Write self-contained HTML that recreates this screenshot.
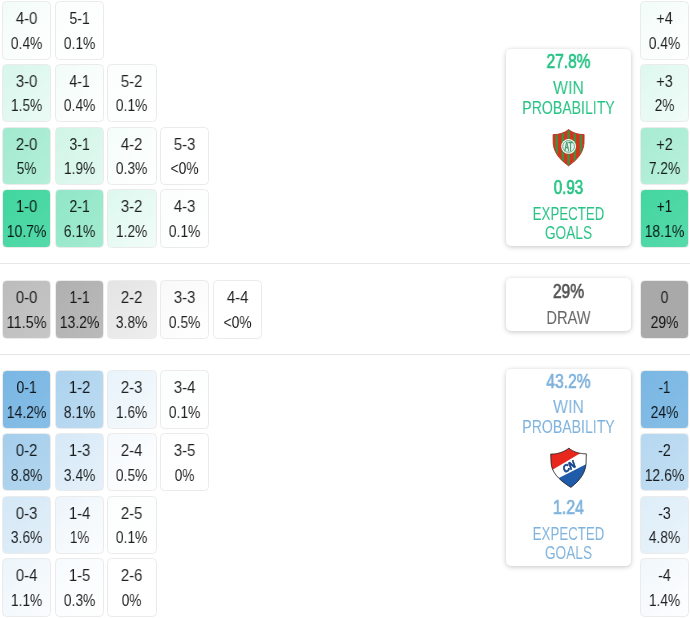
<!DOCTYPE html>
<html><head><meta charset="utf-8"><title>Score matrix</title>
<style>
html,body{margin:0;padding:0;background:#fff;}
body{width:690px;height:618px;position:relative;overflow:hidden;font-family:"Liberation Sans",sans-serif;color:rgba(0,0,0,0.88);}
.b{position:absolute;box-sizing:border-box;width:49.20px;height:58.60px;border:1px solid #ebebeb;border-radius:4.5px;background-clip:padding-box;}
.b span{will-change:transform;position:absolute;left:-10px;right:-10px;text-align:center;font-size:17px;line-height:18px;white-space:nowrap;transform-origin:50% 50%;}
.t1{top:8.00px;}
.t2{top:32.70px;}
.hr{position:absolute;left:0;width:690px;height:1px;background:#e7e7e7;}
.card{position:absolute;left:506px;width:125px;background:#fff;border-radius:5px;box-shadow:0 1px 5px rgba(0,0,0,0.23);}
.cl{will-change:transform;position:absolute;left:-20px;right:-20px;text-align:center;white-space:nowrap;line-height:1;transform-origin:50% 50%;}
.bd{-webkit-text-stroke:0.7px currentColor;}
.dk{color:#555;}
.sh{position:absolute;}
</style></head><body>
<div class="hr" style="top:263px"></div>
<div class="hr" style="top:354px"></div>
<div class="b" style="left:1.90px;top:1.00px;background:linear-gradient(135deg,rgb(242,252,248),rgb(255,255,255))"><span class="t1" style="transform:scaleX(0.867)">4-0</span><span class="t2" style="transform:scaleX(0.813)">0.4%</span></div>
<div class="b" style="left:54.65px;top:1.00px;background:linear-gradient(135deg,rgb(251,254,253),rgb(255,255,255))"><span class="t1" style="transform:scaleX(0.825)">5-1</span><span class="t2" style="transform:scaleX(0.813)">0.1%</span></div>
<div class="b" style="left:1.90px;top:63.75px;background:linear-gradient(135deg,rgb(215,246,235),rgb(235,251,245))"><span class="t1" style="transform:scaleX(0.867)">3-0</span><span class="t2" style="transform:scaleX(0.808)">1.5%</span></div>
<div class="b" style="left:54.65px;top:63.75px;background:linear-gradient(135deg,rgb(242,252,248),rgb(255,255,255))"><span class="t1" style="transform:scaleX(0.825)">4-1</span><span class="t2" style="transform:scaleX(0.813)">0.4%</span></div>
<div class="b" style="left:107.40px;top:63.75px;background:linear-gradient(135deg,rgb(251,254,253),rgb(255,255,255))"><span class="t1" style="transform:scaleX(0.867)">5-2</span><span class="t2" style="transform:scaleX(0.813)">0.1%</span></div>
<div class="b" style="left:1.90px;top:126.50px;background:linear-gradient(135deg,rgb(161,234,207),rgb(181,239,217))"><span class="t1" style="transform:scaleX(0.867)">2-0</span><span class="t2" style="transform:scaleX(0.793)">5%</span></div>
<div class="b" style="left:54.65px;top:126.50px;background:linear-gradient(135deg,rgb(208,245,231),rgb(227,249,241))"><span class="t1" style="transform:scaleX(0.825)">3-1</span><span class="t2" style="transform:scaleX(0.808)">1.9%</span></div>
<div class="b" style="left:107.40px;top:126.50px;background:linear-gradient(135deg,rgb(244,253,249),rgb(255,255,255))"><span class="t1" style="transform:scaleX(0.867)">4-2</span><span class="t2" style="transform:scaleX(0.813)">0.3%</span></div>
<div class="b" style="left:160.15px;top:126.50px;background:linear-gradient(135deg,rgb(255,255,255),rgb(255,255,255))"><span class="t1" style="transform:scaleX(0.867)">5-3</span><span class="t2" style="transform:scaleX(0.809)">&lt;0%</span></div>
<div class="b" style="left:1.90px;top:189.25px;background:linear-gradient(135deg,rgb(65,214,159),rgb(85,218,169))"><span class="t1" style="transform:scaleX(0.861)">1-0</span><span class="t2" style="transform:scaleX(0.824)">10.7%</span></div>
<div class="b" style="left:54.65px;top:189.25px;background:linear-gradient(135deg,rgb(144,231,199),rgb(164,235,209))"><span class="t1" style="transform:scaleX(0.825)">2-1</span><span class="t2" style="transform:scaleX(0.813)">6.1%</span></div>
<div class="b" style="left:107.40px;top:189.25px;background:linear-gradient(135deg,rgb(221,248,238),rgb(241,252,248))"><span class="t1" style="transform:scaleX(0.867)">3-2</span><span class="t2" style="transform:scaleX(0.808)">1.2%</span></div>
<div class="b" style="left:160.15px;top:189.25px;background:linear-gradient(135deg,rgb(251,254,253),rgb(255,255,255))"><span class="t1" style="transform:scaleX(0.867)">4-3</span><span class="t2" style="transform:scaleX(0.813)">0.1%</span></div>
<div class="b" style="left:639.70px;top:1.00px;width:49.00px;background:linear-gradient(135deg,rgb(242,252,248),rgb(255,255,255))"><span class="t1" style="transform:scaleX(0.845)">+4</span><span class="t2" style="transform:scaleX(0.813)">0.4%</span></div>
<div class="b" style="left:639.70px;top:63.75px;width:49.00px;background:linear-gradient(135deg,rgb(221,248,238),rgb(241,252,248))"><span class="t1" style="transform:scaleX(0.845)">+3</span><span class="t2" style="transform:scaleX(0.793)">2%</span></div>
<div class="b" style="left:639.70px;top:126.50px;width:49.00px;background:linear-gradient(135deg,rgb(167,236,210),rgb(186,240,220))"><span class="t1" style="transform:scaleX(0.845)">+2</span><span class="t2" style="transform:scaleX(0.813)">7.2%</span></div>
<div class="b" style="left:639.70px;top:189.25px;width:49.00px;background:linear-gradient(135deg,rgb(67,214,160),rgb(87,218,170))"><span class="t1" style="transform:scaleX(0.792)">+1</span><span class="t2" style="transform:scaleX(0.824)">18.1%</span></div>
<div class="b" style="left:1.90px;top:280.00px;background:linear-gradient(135deg,rgb(188,188,188),rgb(198,198,198))"><span class="t1" style="transform:scaleX(0.867)">0-0</span><span class="t2" style="transform:scaleX(0.847)">11.5%</span></div>
<div class="b" style="left:54.65px;top:280.00px;background:linear-gradient(135deg,rgb(176,176,176),rgb(186,186,186))"><span class="t1" style="transform:scaleX(0.818)">1-1</span><span class="t2" style="transform:scaleX(0.824)">13.2%</span></div>
<div class="b" style="left:107.40px;top:280.00px;background:linear-gradient(135deg,rgb(228,228,228),rgb(238,238,238))"><span class="t1" style="transform:scaleX(0.867)">2-2</span><span class="t2" style="transform:scaleX(0.813)">3.8%</span></div>
<div class="b" style="left:160.15px;top:280.00px;background:linear-gradient(135deg,rgb(249,249,249),rgb(255,255,255))"><span class="t1" style="transform:scaleX(0.867)">3-3</span><span class="t2" style="transform:scaleX(0.813)">0.5%</span></div>
<div class="b" style="left:212.90px;top:280.00px;background:linear-gradient(135deg,rgb(255,255,255),rgb(255,255,255))"><span class="t1" style="transform:scaleX(0.867)">4-4</span><span class="t2" style="transform:scaleX(0.809)">&lt;0%</span></div>
<div class="b" style="left:639.70px;top:280.00px;width:49.00px;background:linear-gradient(135deg,rgb(169,169,169),rgb(169,169,169))"><span class="t1" style="transform:scaleX(0.822)">0</span><span class="t2" style="transform:scaleX(0.820)">29%</span></div>
<div class="b" style="left:1.90px;top:370.10px;background:linear-gradient(135deg,rgb(121,183,227),rgb(135,190,230))"><span class="t1" style="transform:scaleX(0.825)">0-1</span><span class="t2" style="transform:scaleX(0.824)">14.2%</span></div>
<div class="b" style="left:54.65px;top:370.10px;background:linear-gradient(135deg,rgb(174,211,238),rgb(188,219,241))"><span class="t1" style="transform:scaleX(0.861)">1-2</span><span class="t2" style="transform:scaleX(0.813)">8.1%</span></div>
<div class="b" style="left:107.40px;top:370.10px;background:linear-gradient(135deg,rgb(232,243,250),rgb(246,250,253))"><span class="t1" style="transform:scaleX(0.867)">2-3</span><span class="t2" style="transform:scaleX(0.808)">1.6%</span></div>
<div class="b" style="left:160.15px;top:370.10px;background:linear-gradient(135deg,rgb(252,254,254),rgb(255,255,255))"><span class="t1" style="transform:scaleX(0.867)">3-4</span><span class="t2" style="transform:scaleX(0.813)">0.1%</span></div>
<div class="b" style="left:1.90px;top:432.85px;background:linear-gradient(135deg,rgb(165,206,236),rgb(179,214,239))"><span class="t1" style="transform:scaleX(0.867)">0-2</span><span class="t2" style="transform:scaleX(0.813)">8.8%</span></div>
<div class="b" style="left:54.65px;top:432.85px;background:linear-gradient(135deg,rgb(214,233,247),rgb(229,241,250))"><span class="t1" style="transform:scaleX(0.861)">1-3</span><span class="t2" style="transform:scaleX(0.813)">3.4%</span></div>
<div class="b" style="left:107.40px;top:432.85px;background:linear-gradient(135deg,rgb(244,249,253),rgb(255,255,255))"><span class="t1" style="transform:scaleX(0.867)">2-4</span><span class="t2" style="transform:scaleX(0.813)">0.5%</span></div>
<div class="b" style="left:160.15px;top:432.85px;background:linear-gradient(135deg,rgb(255,255,255),rgb(255,255,255))"><span class="t1" style="transform:scaleX(0.867)">3-5</span><span class="t2" style="transform:scaleX(0.793)">0%</span></div>
<div class="b" style="left:1.90px;top:495.60px;background:linear-gradient(135deg,rgb(212,232,246),rgb(226,239,249))"><span class="t1" style="transform:scaleX(0.867)">0-3</span><span class="t2" style="transform:scaleX(0.813)">3.6%</span></div>
<div class="b" style="left:54.65px;top:495.60px;background:linear-gradient(135deg,rgb(237,245,251),rgb(251,253,254))"><span class="t1" style="transform:scaleX(0.861)">1-4</span><span class="t2" style="transform:scaleX(0.784)">1%</span></div>
<div class="b" style="left:107.40px;top:495.60px;background:linear-gradient(135deg,rgb(252,254,254),rgb(255,255,255))"><span class="t1" style="transform:scaleX(0.867)">2-5</span><span class="t2" style="transform:scaleX(0.813)">0.1%</span></div>
<div class="b" style="left:1.90px;top:558.35px;background:linear-gradient(135deg,rgb(236,245,251),rgb(250,252,254))"><span class="t1" style="transform:scaleX(0.867)">0-4</span><span class="t2" style="transform:scaleX(0.808)">1.1%</span></div>
<div class="b" style="left:54.65px;top:558.35px;background:linear-gradient(135deg,rgb(247,251,253),rgb(255,255,255))"><span class="t1" style="transform:scaleX(0.861)">1-5</span><span class="t2" style="transform:scaleX(0.813)">0.3%</span></div>
<div class="b" style="left:107.40px;top:558.35px;background:linear-gradient(135deg,rgb(255,255,255),rgb(255,255,255))"><span class="t1" style="transform:scaleX(0.867)">2-6</span><span class="t2" style="transform:scaleX(0.793)">0%</span></div>
<div class="b" style="left:639.70px;top:370.10px;width:49.00px;background:linear-gradient(135deg,rgb(121,183,227),rgb(135,190,230))"><span class="t1" style="transform:scaleX(0.784)">-1</span><span class="t2" style="transform:scaleX(0.820)">24%</span></div>
<div class="b" style="left:639.70px;top:432.85px;width:49.00px;background:linear-gradient(135deg,rgb(181,215,240),rgb(195,223,243))"><span class="t1" style="transform:scaleX(0.853)">-2</span><span class="t2" style="transform:scaleX(0.824)">12.6%</span></div>
<div class="b" style="left:639.70px;top:495.60px;width:49.00px;background:linear-gradient(135deg,rgb(221,237,248),rgb(235,244,251))"><span class="t1" style="transform:scaleX(0.853)">-3</span><span class="t2" style="transform:scaleX(0.813)">4.8%</span></div>
<div class="b" style="left:639.70px;top:558.35px;width:49.00px;background:linear-gradient(135deg,rgb(240,247,252),rgb(254,254,255))"><span class="t1" style="transform:scaleX(0.853)">-4</span><span class="t2" style="transform:scaleX(0.808)">1.4%</span></div>
<div class="card" style="top:48.50px;height:197.3px;color:#27c384"><span class="cl bd" style="top:3.09px;font-size:19.50px;transform:scaleX(0.793)">27.8%</span><span class="cl " style="top:29.95px;font-size:19.20px;transform:scaleX(0.823)">WIN</span><span class="cl " style="top:49.65px;font-size:19.20px;transform:scaleX(0.735)">PROBABILITY</span><svg class="sh" style="left:46px;top:79px" width="34" height="40" viewBox="0 0 34 40">
<defs><clipPath id="c1"><path d="M1.1 6.6 C6.5 6.8 12.5 5 16.6 1.6 C20.7 5 26.7 6.8 32.1 6.6 L32 15 C31.6 22 28 30 16.6 37.8 C5.2 30 1.6 22 1.2 15 Z"/></clipPath></defs>
<g clip-path="url(#c1)"><rect width="34" height="40" fill="#d8321f"/>
<g fill="#4b8a3c"><rect x="3.4" width="2.6" height="40"/><rect x="9.5" width="2.6" height="40"/><rect x="15.3" width="2.6" height="40"/><rect x="21.5" width="2.6" height="40"/><rect x="27.6" width="2.6" height="40"/></g></g>
<path d="M1.1 6.6 C6.5 6.8 12.5 5 16.6 1.6 C20.7 5 26.7 6.8 32.1 6.6 L32 15 C31.6 22 28 30 16.6 37.8 C5.2 30 1.6 22 1.2 15 Z" fill="none" stroke="#b5371f" stroke-width="0.9"/>
<circle cx="16.6" cy="18.4" r="7.4" fill="#f4faf6"/>
<circle cx="16.6" cy="18.4" r="5.9" fill="#dff1e8" stroke="#62a888" stroke-width="0.9"/>
<text transform="translate(16.6,22.7) scale(0.56,1)" x="0" y="0" text-anchor="middle" font-family="Liberation Sans, sans-serif" font-size="12" fill="#4a9a70" stroke="#4a9a70" stroke-width="0.7">AT</text>
</svg>
<span class="cl bd" style="top:129.59px;font-size:19.50px;transform:scaleX(0.777)">0.93</span><span class="cl " style="top:155.95px;font-size:19.20px;transform:scaleX(0.693)">EXPECTED</span><span class="cl " style="top:174.75px;font-size:19.20px;transform:scaleX(0.714)">GOALS</span></div>
<div class="card" style="top:368.50px;height:197.3px;color:#7fb3dd"><span class="cl bd" style="top:3.09px;font-size:19.50px;transform:scaleX(0.800)">43.2%</span><span class="cl " style="top:28.65px;font-size:19.20px;transform:scaleX(0.823)">WIN</span><span class="cl " style="top:48.85px;font-size:19.20px;transform:scaleX(0.735)">PROBABILITY</span><svg class="sh" style="left:43px;top:77px" width="40" height="44" viewBox="0 0 40 44">
<defs><clipPath id="c2"><path d="M1.7 8.1 C8 8.3 15 6 19.9 2.2 C24.5 6 31 8 37.3 7.8 L37.1 17 C36.6 25 33 33 21.9 41.4 C8 33 2.6 25 2.1 17 Z"/></clipPath></defs>
<g clip-path="url(#c2)"><rect width="40" height="44" fill="#fff"/>
<polygon points="0,0 40,0 40,2.1 0,25.9" fill="#e9281d"/>
<polygon points="40,16.7 40,44 0,44 0,37.1" fill="#1f5ba8"/></g>
<path d="M1.7 8.1 C8 8.3 15 6 19.9 2.2 C24.5 6 31 8 37.3 7.8 L37.1 17 C36.6 25 33 33 21.9 41.4 C8 33 2.6 25 2.1 17 Z" fill="none" stroke="#1c1c22" stroke-width="0.8"/>
<text transform="translate(20.1,20.5) rotate(-29) skewX(-10)" x="0" y="3.7" text-anchor="middle" font-family="Liberation Sans, sans-serif" font-weight="bold" font-size="10.4" fill="#13448a" stroke="#13448a" stroke-width="0.7" textLength="13.4" lengthAdjust="spacingAndGlyphs">CN</text>
</svg>
<span class="cl bd" style="top:129.39px;font-size:19.50px;transform:scaleX(0.816)">1.24</span><span class="cl " style="top:155.15px;font-size:19.20px;transform:scaleX(0.693)">EXPECTED</span><span class="cl " style="top:174.45px;font-size:19.20px;transform:scaleX(0.714)">GOALS</span></div>
<div class="card" style="top:277.5px;height:53px;color:#666"><span class="cl bd dk" style="top:4.19px;font-size:19.50px;transform:scaleX(0.800)">29%</span><span class="cl " style="top:30.35px;font-size:19.20px;transform:scaleX(0.763)">DRAW</span></div>

</body></html>
